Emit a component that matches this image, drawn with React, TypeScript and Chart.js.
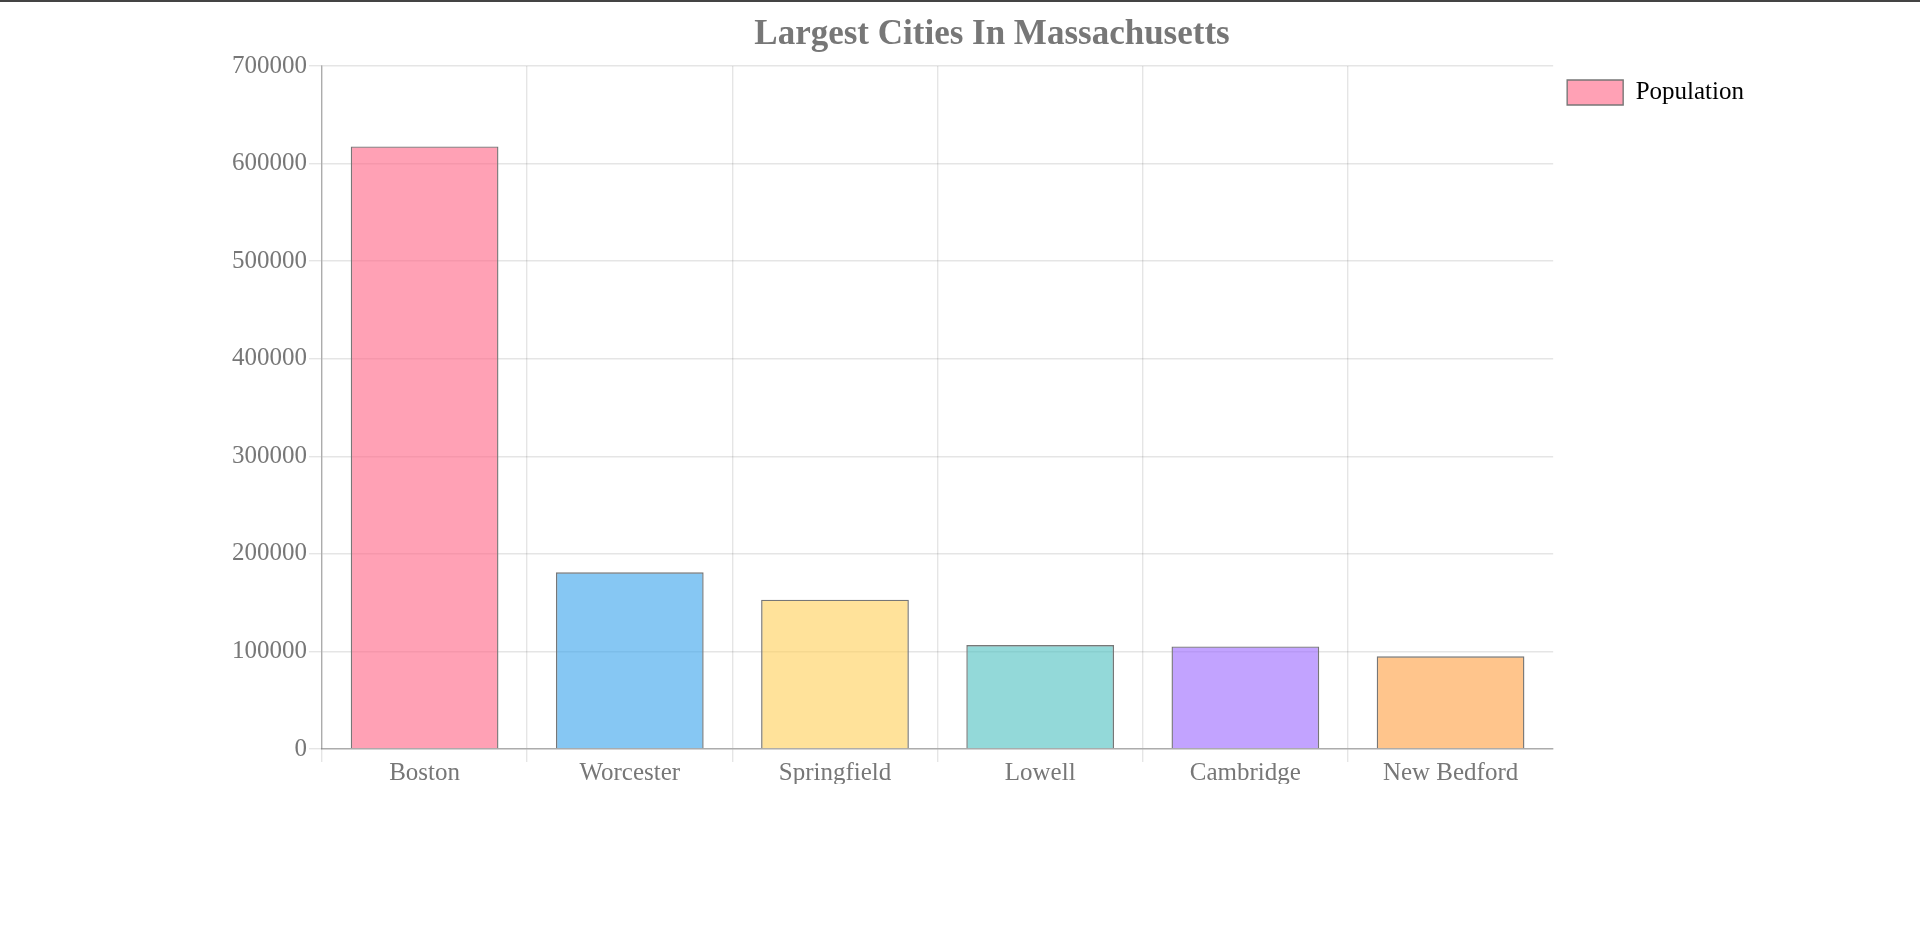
import React, { useEffect, useRef } from "react";
import { Chart, registerables } from "chart.js";

Chart.register(...registerables);

const cities = ["Boston", "Worcester", "Springfield", "Lowell", "Cambridge", "New Bedford"];
const population = [617594, 181045, 153060, 106519, 105162, 95072];
const barColors = [
  "rgba(255, 99, 132, 0.6)",
  "rgba(54, 162, 235, 0.6)",
  "rgba(255, 206, 86, 0.6)",
  "rgba(75, 192, 192, 0.6)",
  "rgba(153, 102, 255, 0.6)",
  "rgba(255, 159, 64, 0.6)",
];
const seriesLabel = "Population";
const chartTitle = "Largest Cities In Massachusetts";

const FONT = "'Liberation Serif', 'Times New Roman', serif";

export default function App() {
  const ref = useRef<HTMLCanvasElement | null>(null);

  useEffect(() => {
    if (!ref.current) return;
    const chart = new Chart(ref.current, {
      type: "bar",
      data: {
        labels: cities,
        datasets: [
          {
            label: seriesLabel,
            data: population,
            backgroundColor: barColors,
            borderColor: "#777",
            borderWidth: 1.4,
          },
        ],
      },
      options: {
        responsive: false,
        animation: false,
        color: "#777",
        font: { family: FONT, size: 25 },
        layout: { padding: { left: 230, right: 3, top: 0, bottom: 0 } },
        plugins: {
          title: {
            display: true,
            text: chartTitle,
            color: "#777",
            font: { family: FONT, size: 35, weight: "bold" },
            padding: { top: 14, bottom: 10 },
          },
          legend: {
            position: "right",
            align: "start",
            fullSize: false,
            labels: {
              color: "#000",
              boxWidth: 56,
              padding: 14,
              font: { family: FONT, size: 25 },
            },
          },
          tooltip: { enabled: true },
        },
        scales: {
          x: {
            grid: {
              color: (c: any) => (c.type === "tick" ? "rgba(0,0,0,0.1)" : "rgba(0,0,0,0)"),
              lineWidth: 1.4,
              tickLength: 13,
            },
            border: { color: "rgba(0,0,0,0.25)", width: 1.4 },
            ticks: { color: "#777", font: { family: FONT, size: 25 }, padding: -4 },
          },
          y: {
            beginAtZero: true,
            max: 700000,
            min: 0,
            grid: {
              color: "rgba(0,0,0,0.1)",
              lineWidth: 1.4,
              tickLength: 13,
            },
            border: { color: "rgba(0,0,0,0.25)", width: 1.4 },
            ticks: {
              color: "#777",
              stepSize: 100000,
              font: { family: FONT, size: 25 },
              padding: 2,
              callback: (v: any) => String(v),
            },
          },
        },
      },
    });
    return () => chart.destroy();
  }, []);

  return (
    <div>
      <div
        style={{
          position: "fixed",
          top: 0,
          left: 0,
          width: "100%",
          height: 2,
          background: "#444",
          zIndex: 2,
        }}
      />
      <canvas
        ref={ref}
        width={1757}
        height={784}
        style={{ position: "absolute", left: 0, top: 0, display: "block" }}
      />
    </div>
  );
}
